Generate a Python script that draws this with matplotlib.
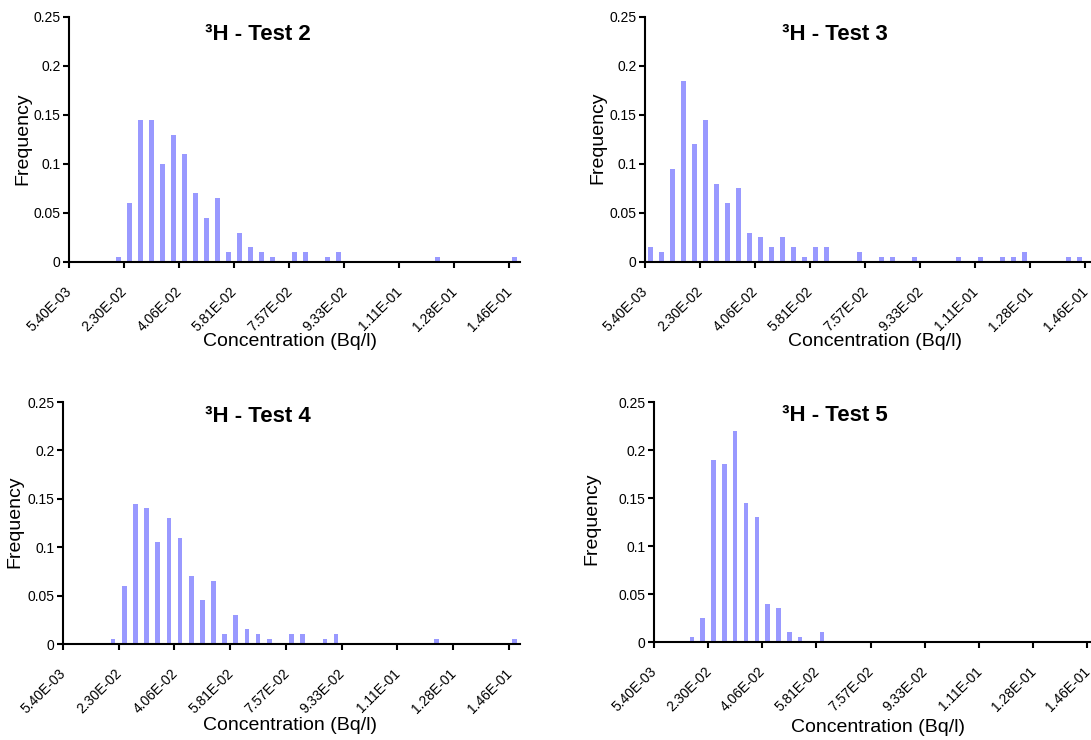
import matplotlib
matplotlib.use("Agg")
import matplotlib.pyplot as plt
import matplotlib.transforms as mtransforms
import numpy as np

plt.rcParams['font.family'] = ['Liberation Sans', 'DejaVu Sans']

tick_labels = ["5.40E-03", "2.30E-02", "4.06E-02", "5.81E-02", "7.57E-02",
               "9.33E-02", "1.11E-01", "1.28E-01", "1.46E-01"]

test2 = [0, 0, 0, 0, 0.005, 0.06, 0.145, 0.145, 0.1, 0.13,
         0.11, 0.07, 0.045, 0.065, 0.01, 0.03, 0.015, 0.01, 0.005, 0,
         0.01, 0.01, 0, 0.005, 0.01, 0, 0, 0, 0, 0,
         0, 0, 0, 0.005, 0, 0, 0, 0, 0, 0,
         0.005]
test3 = [0.015, 0.01, 0.095, 0.185, 0.12, 0.145, 0.08, 0.06, 0.075, 0.03,
         0.025, 0.015, 0.025, 0.015, 0.005, 0.015, 0.015, 0, 0, 0.01,
         0, 0.005, 0.005, 0, 0.005, 0, 0, 0, 0.005, 0,
         0.005, 0, 0.005, 0.005, 0.01, 0, 0, 0, 0.005, 0.005,
         0]
test4 = [0, 0, 0, 0, 0.005, 0.06, 0.145, 0.14, 0.105, 0.13,
         0.11, 0.07, 0.045, 0.065, 0.01, 0.03, 0.015, 0.01, 0.005, 0,
         0.01, 0.01, 0, 0.005, 0.01, 0, 0, 0, 0, 0,
         0, 0, 0, 0.005, 0, 0, 0, 0, 0, 0,
         0.005]
test5 = [0, 0, 0, 0.005, 0.025, 0.19, 0.185, 0.22, 0.145, 0.13,
         0.04, 0.035, 0.01, 0.005, 0, 0.01, 0, 0, 0, 0,
         0, 0, 0, 0, 0, 0, 0, 0, 0, 0,
         0, 0, 0, 0, 0, 0, 0, 0, 0, 0,
         0]

titles = ["³H - Test 2", "³H - Test 3", "³H - Test 4", "³H - Test 5"]
series = [test2, test3, test4, test5]

W, H = 1091, 740
fig = plt.figure(figsize=(W / 100, H / 100), dpi=100)

# pixel boxes: left, right, top, bottom
boxes = [(69, 520, 17, 262), (645, 1096, 17, 262),
         (63, 520, 402, 644), (654, 1098, 402, 642)]
title_pos = [(258, 34), (835, 34), (258, 417), (835, 415)]
ylab_pos = [(23, 139), (598, 138), (15, 522), (592, 519)]
xlab_pos = [(290, 342), (875, 342), (290, 725), (878, 727)]

bar_color = "#9999FF"
shift = mtransforms.ScaledTranslation(-4 / 100, 0, fig.dpi_scale_trans)

for k in range(4):
    l, r, t, b = boxes[k]
    ax = fig.add_axes([l / W, 1 - b / H, (r - l) / W, (b - t) / H])
    vals = series[k]
    x = np.arange(len(vals))
    ax.bar(x, vals, width=0.42, color=bar_color, edgecolor='none', zorder=2)
    ax.set_xlim(-0.5, len(vals) - 0.5)
    ax.set_ylim(0, 0.25)
    ax.set_yticks([0, 0.05, 0.1, 0.15, 0.2, 0.25])
    ax.set_yticklabels(["0", "0.05", "0.1", "0.15", "0.2", "0.25"])
    ax.set_xticks([i * 5 - 0.5 for i in range(len(tick_labels))])
    ax.set_xticklabels(tick_labels)
    ax.tick_params(axis='x', direction='out', length=4, width=1.5,
                   labelsize=10, pad=12, color='black')
    ax.tick_params(axis='y', direction='out', length=4, width=1.5,
                   labelsize=10, pad=2, color='black')
    for lab in ax.get_xticklabels():
        lab.set_rotation(45)
        lab.set_ha('right')
        lab.set_va('top')
        lab.set_rotation_mode('anchor')
        lab.set_transform(lab.get_transform() + shift)
    for s in ['top', 'right']:
        ax.spines[s].set_visible(False)
    for s in ['left', 'bottom']:
        ax.spines[s].set_linewidth(1.5)
        ax.spines[s].set_color('black')
    ax.patch.set_alpha(0)

    tx, ty = title_pos[k]
    fig.text(tx / W, 1 - ty / H, titles[k], ha='center', va='center',
             fontsize=16, fontweight='bold')
    yx, yy = ylab_pos[k]
    fig.text(yx / W, 1 - yy / H, "Frequency", rotation=90, ha='center',
             va='center', fontsize=14)
    xx, xy = xlab_pos[k]
    fig.text(xx / W, 1 - xy / H, "Concentration (Bq/l)", ha='center',
             va='center', fontsize=14)

fig.savefig("out.png", dpi=100)
